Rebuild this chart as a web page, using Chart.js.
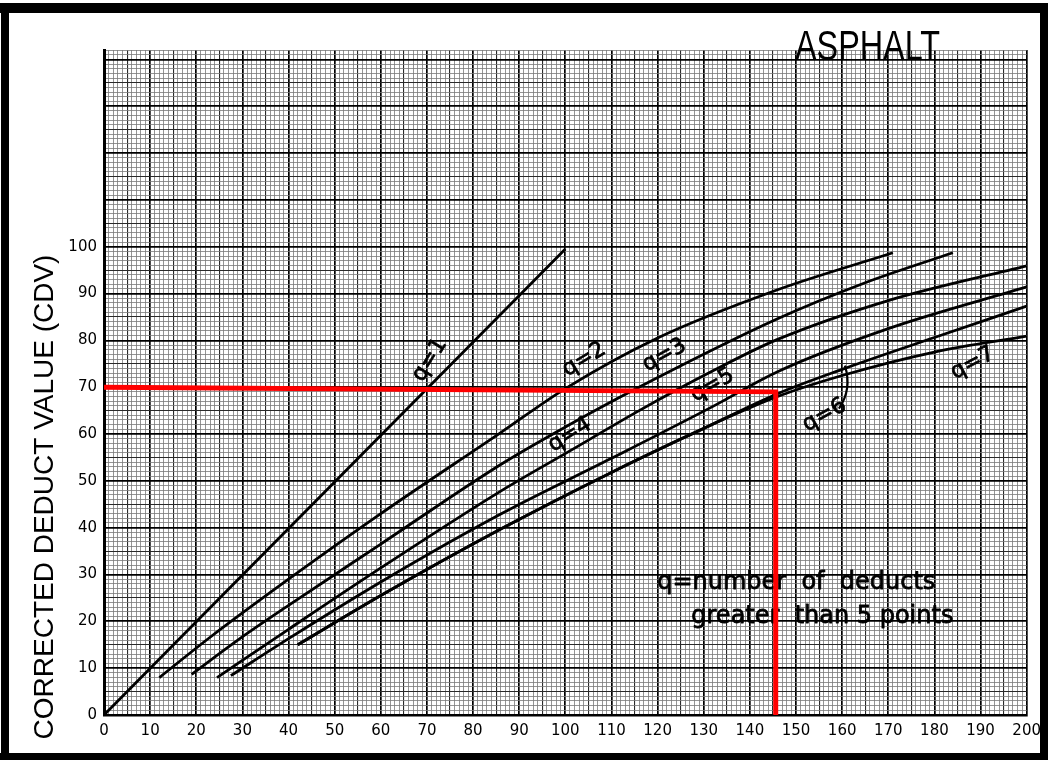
<!DOCTYPE html>
<html>
<head>
<meta charset="utf-8">
<script src="https://cdn.jsdelivr.net/npm/chart.js@4.4.0/dist/chart.umd.min.js"></script>
<style>
  html, body { margin: 0; padding: 0; background: #fff; }
  #wrap { position: relative; width: 1048px; height: 760px; }
</style>
</head>
<body>
<div id="wrap"><canvas id="cdvChart"></canvas></div>
<script>
// TDV (x) and CDV (y)
const tdvQ1 = [0, 100]
const cdvQ1 = [0, 99.5]
const tdvQ2 = [12, 23, 40, 60, 86, 100, 120, 146, 171]
const cdvQ2 = [8, 16.6, 29, 43, 60.3, 69.7, 80.5, 90.8, 98.7]
const tdvQ3 = [19, 29, 40, 60, 86, 100, 115, 146, 165, 184]
const cdvQ3 = [8.7, 16, 23.4, 36.5, 53.5, 61.5, 69.5, 84.6, 92.3, 98.7]
const tdvQ4 = [24.5, 40, 60, 86, 101, 116, 132, 146, 170, 200]
const cdvQ4 = [8, 18.3, 31.4, 47.8, 56.4, 65, 73.5, 80.2, 88.5, 95.9]
const tdvQ5 = [27.5, 40, 60, 86, 110, 132, 146, 170, 200]
const cdvQ5 = [8.4, 16.3, 28.4, 42.9, 54.8, 65.9, 73.3, 82.5, 91.4]
const tdvQ6 = [42, 60, 86, 110, 130, 146, 160, 180, 200]
const cdvQ6 = [15, 25.5, 39.7, 51.8, 61.2, 68.6, 73.8, 80.6, 87.3]
const tdvQ7 = [42, 60, 86, 110, 130, 146, 160, 180, 200]
const cdvQ7 = [15, 25.5, 39.7, 51.8, 61.2, 68.0, 72.5, 77.5, 80.9]

// red read-off line: CDV 70 -> TDV ~146
const redTdv = [0, 145.6, 145.6]
const redCdv = [70, 69, 0]

const xTickLabels = [0, 10, 20, 30, 40, 50, 60, 70, 80, 90, 100, 110, 120, 130, 140, 150, 160, 170, 180, 190, 200]
const yTickLabels = [0, 10, 20, 30, 40, 50, 60, 70, 80, 90, 100]

// label placement (data coords) for the q= captions
const curveLabels = [
  { text: 'q=1', x: 70.6, y: 75.8, rot: -58 },
  { text: 'q=2', x: 104.1, y: 75.9, rot: -31 },
  { text: 'q=3', x: 121.5, y: 76.8, rot: -29 },
  { text: 'q=4', x: 101, y: 59.8, rot: -32 },
  { text: 'q=5', x: 131.9, y: 70.4, rot: -30 },
  { text: 'q=6', x: 156.2, y: 64, rot: -29 },
  { text: 'q=7', x: 188.3, y: 75.1, rot: -28 }
]

function pts(xs, ys) {
  return xs.map((x, i) => ({ x: x, y: ys[i] }))
}

function curve(label, xs, ys) {
  return {
    label: label,
    data: pts(xs, ys),
    borderColor: '#000',
    borderWidth: 2.8,
    pointRadius: 0,
    cubicInterpolationMode: 'monotone',
    fill: false,
    order: 1
  }
}

const gridColor = ctx => {
  const v = ctx.tick.value
  if (v % 10 === 0) return '#000'
  if (v % 5 === 0) return '#2a2a2a'
  return '#7a7a7a'
}
const gridWidth = ctx => {
  const v = ctx.tick.value
  if (v % 10 === 0) return 1.7
  if (v % 5 === 0) return 1.1
  return 0.8
}

// text drawn slightly heavy, like the pen lettering of the original
function inkText(ctx, s, px, py, lw) {
  ctx.lineWidth = lw
  ctx.strokeText(s, px, py)
  ctx.fillText(s, px, py)
}

const paperText = {
  id: 'paperText',
  beforeDatasetsDraw(chart) {
    const { ctx, scales: { x, y } } = chart
    ctx.save()
    ctx.fillStyle = '#000'
    ctx.strokeStyle = '#000'
    ctx.lineJoin = 'round'

    ctx.font = '22px "DejaVu Sans"'
    ctx.textAlign = 'center'
    ctx.textBaseline = 'middle'
    curveLabels.forEach(l => {
      ctx.save()
      ctx.translate(x.getPixelForValue(l.x), y.getPixelForValue(l.y))
      ctx.rotate(l.rot * Math.PI / 180)
      inkText(ctx, l.text, 0, 0, 0.8)
      ctx.restore()
    })

    // little bracket tying q=6 to its curve
    ctx.lineWidth = 2.2
    ctx.beginPath()
    ctx.moveTo(x.getPixelForValue(159.3), y.getPixelForValue(65.4))
    ctx.quadraticCurveTo(x.getPixelForValue(162.2), y.getPixelForValue(69.6),
                         x.getPixelForValue(160.6), y.getPixelForValue(74.6))
    ctx.stroke()

    ctx.font = '24px "DejaVu Sans"'
    ctx.textAlign = 'left'
    inkText(ctx, 'q=number  of  deducts', x.getPixelForValue(119.9), y.getPixelForValue(28.2), 0.8)
    inkText(ctx, 'greater  than 5 points', x.getPixelForValue(127.3), y.getPixelForValue(20.9), 0.8)

    // ASPHALT, squeezed to the narrow lettering of the original
    ctx.font = '42px "Liberation Sans"'
    ctx.textBaseline = 'alphabetic'
    const w = ctx.measureText('ASPHALT').width
    ctx.save()
    ctx.translate(795, 60)
    ctx.scale(145 / w, 1)
    ctx.fillText('ASPHALT', 0, 0)
    ctx.restore()

    ctx.font = '28px "Liberation Sans"'
    ctx.textAlign = 'center'
    ctx.save()
    ctx.translate(53, 497)
    ctx.rotate(-Math.PI / 2)
    ctx.fillText('CORRECTED DEDUCT VALUE (CDV)', 0, 0)
    ctx.restore()

    ctx.restore()
  },
  afterDraw(chart) {
    const ctx = chart.ctx
    ctx.save()
    ctx.fillStyle = '#000'
    ctx.fillRect(0, 3, 1048, 10)
    ctx.fillRect(1, 3, 8, 757)
    ctx.fillRect(1040, 3, 8, 757)
    ctx.fillRect(0, 753, 1048, 7)
    ctx.restore()
  }
}

new Chart(document.getElementById('cdvChart'), {
  type: 'line',
  data: {
    datasets: [
      {
        label: 'read-off',
        data: pts(redTdv, redCdv),
        borderColor: '#ff0000',
        borderWidth: 5,
        pointRadius: 0,
        tension: 0,
        fill: false,
        order: 0
      },
      curve('q=1', tdvQ1, cdvQ1),
      curve('q=2', tdvQ2, cdvQ2),
      curve('q=3', tdvQ3, cdvQ3),
      curve('q=4', tdvQ4, cdvQ4),
      curve('q=5', tdvQ5, cdvQ5),
      curve('q=6', tdvQ6, cdvQ6),
      curve('q=7', tdvQ7, cdvQ7)
    ]
  },
  options: {
    responsive: true,
    maintainAspectRatio: false,
    animation: false,
    layout: { padding: { top: 50, right: 20, left: 0, bottom: 0 } },
    plugins: {
      legend: { display: false },
      tooltip: { enabled: false }
    },
    scales: {
      x: {
        type: 'linear',
        min: 0,
        max: 200,
        afterFit: s => { s.height = 45 },
        border: { color: '#000', width: 2.5 },
        grid: { color: gridColor, lineWidth: gridWidth, drawTicks: false },
        ticks: {
          stepSize: 1,
          maxTicksLimit: 1000,
          autoSkip: false,
          maxRotation: 0,
          minRotation: 0,
          padding: 7,
          color: '#000',
          font: { family: 'DejaVu Sans', size: 15 },
          callback: v => xTickLabels.includes(v) ? String(v) : ''
        }
      },
      y: {
        type: 'linear',
        min: 0,
        max: 142,
        afterFit: s => { s.width = 104 },
        border: { color: '#000', width: 3 },
        grid: { color: gridColor, lineWidth: gridWidth, drawTicks: false },
        ticks: {
          stepSize: 1,
          maxTicksLimit: 1000,
          autoSkip: false,
          padding: 7,
          color: '#000',
          font: { family: 'DejaVu Sans', size: 15 },
          callback: v => yTickLabels.includes(v) ? String(v) : ''
        }
      }
    }
  },
  plugins: [paperText]
})
</script>
</body>
</html>
